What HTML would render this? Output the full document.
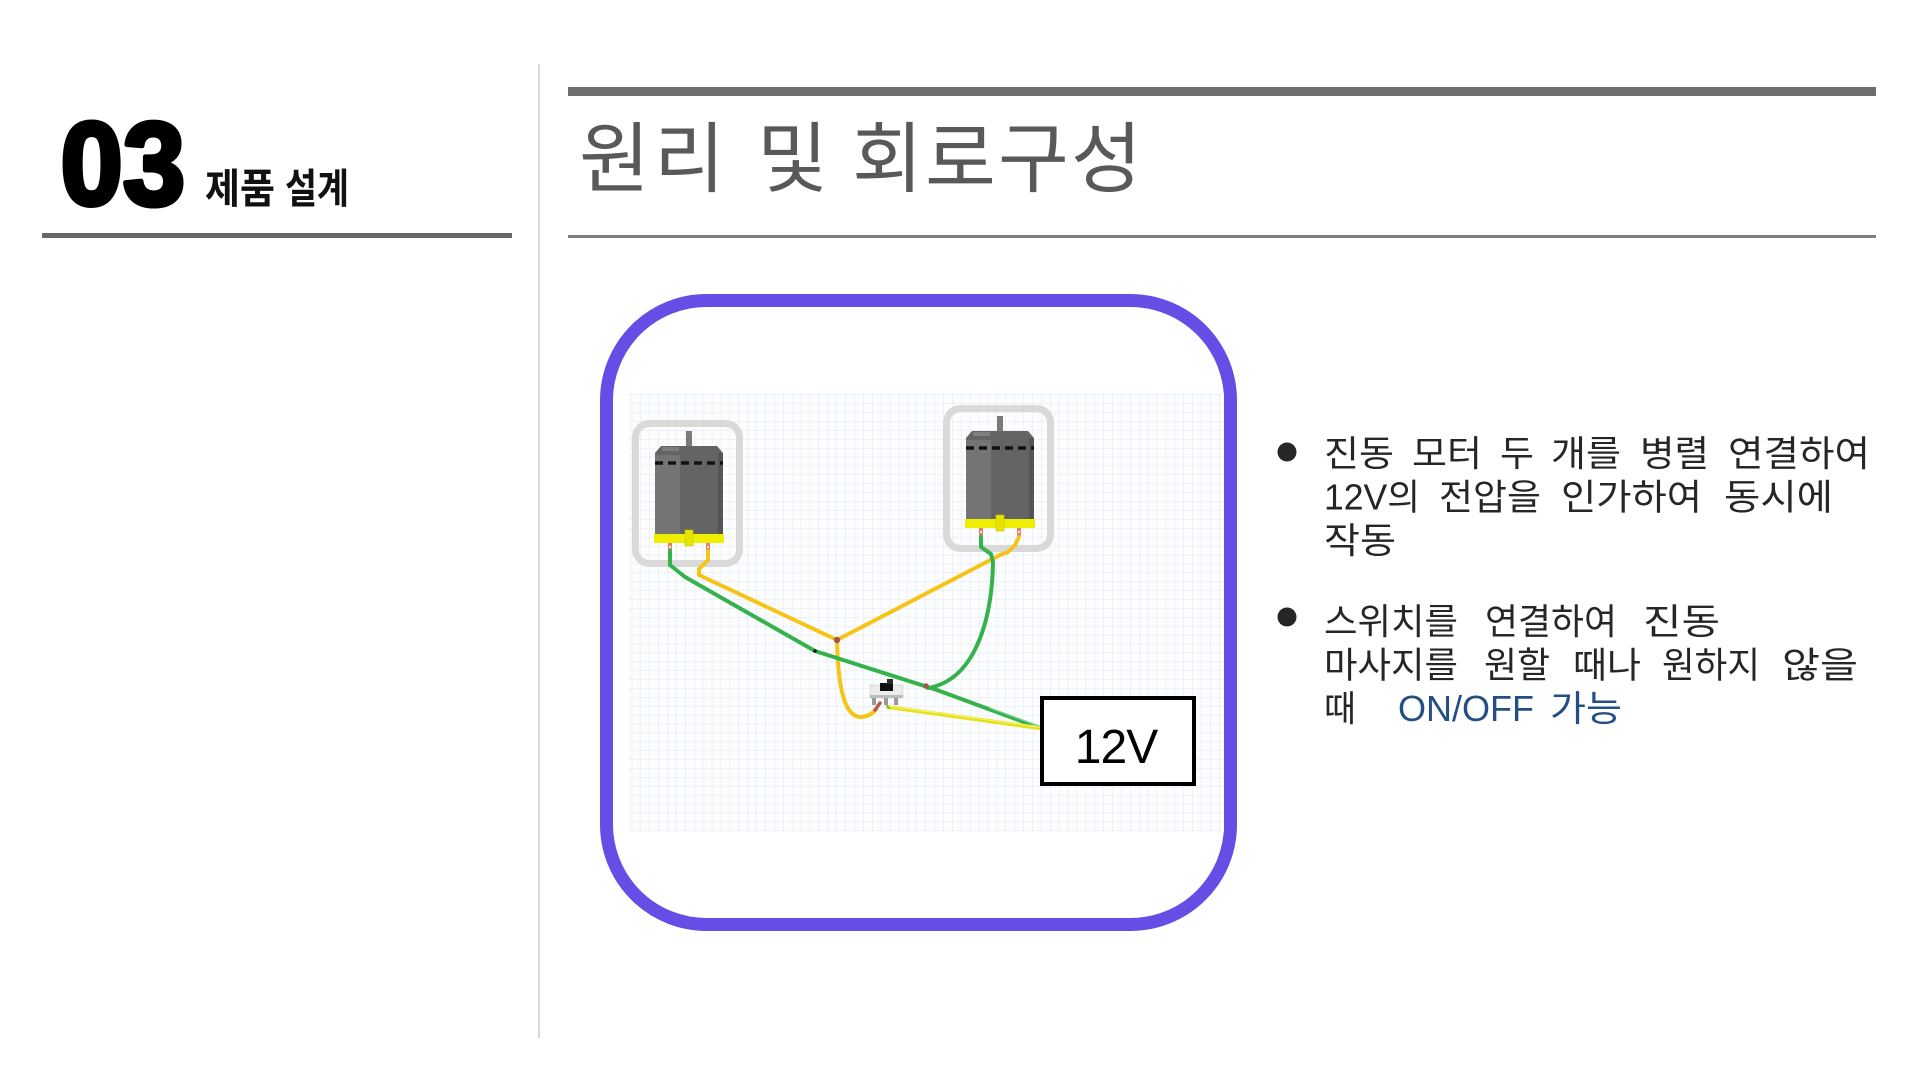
<!DOCTYPE html>
<html>
<head>
<meta charset="utf-8">
<style>
  html,body{margin:0;padding:0;background:#fff;}
  body{width:1920px;height:1080px;overflow:hidden;}
  svg{display:block;}
  .kr{font-family:"Liberation Sans","Noto Sans CJK KR",sans-serif;}
</style>
</head>
<body>
<svg width="1920" height="1080" viewBox="0 0 1920 1080" xmlns="http://www.w3.org/2000/svg">
  <defs>
    <pattern id="grid" x="631.7" y="394.5" width="8.9" height="8.9" patternUnits="userSpaceOnUse">
      <path d="M0,0 H8.9 M0,0 V8.9" stroke="#e0e5ed" stroke-width="1" fill="none"/>
    </pattern>
  </defs>

  <!-- Left header -->
  <g transform="translate(60.5,204.5) scale(0.95,1)">
    <text x="0" y="0" font-family="Liberation Sans, sans-serif" font-weight="700" font-size="118" fill="#000" stroke="#000" stroke-width="5" stroke-linejoin="round">03</text>
  </g>
  <g class="kr" font-size="41" font-weight="700" fill="#111">
    <text x="205" y="203" textLength="70" lengthAdjust="spacingAndGlyphs">제품</text>
    <text x="285" y="203" textLength="64" lengthAdjust="spacingAndGlyphs">설계</text>
  </g>
  <rect x="42" y="233" width="470" height="5" fill="#666"/>

  <!-- vertical separator -->
  <rect x="538" y="64" width="2" height="974" fill="#dadada"/>

  <!-- Title area -->
  <rect x="568" y="87" width="1308" height="9" fill="#6e6e6e"/>
  <text class="kr" x="579 654 757 852 925 998 1071" y="186" font-size="77" fill="#595959">원리및회로구성</text>
  <rect x="568" y="235" width="1308" height="3" fill="#7f7f7f"/>

  <!-- Purple frame -->
  <rect x="606.5" y="300.5" width="624" height="624" rx="100" ry="100" fill="#fff" stroke="#664de6" stroke-width="13"/>

  <!-- Grid -->
  <rect x="628" y="393" width="596" height="439" fill="#fcfdfe"/>
  <rect x="628" y="393" width="596" height="439" fill="url(#grid)"/>

  <!-- Motor 1 -->
  <g>
    <rect x="635.5" y="423.5" width="104" height="140" rx="14" ry="14" fill="none" stroke="#d9d9d9" stroke-width="7"/>
    <rect x="686" y="431" width="6" height="16" fill="#7a7a7a"/>
    <path d="M661,446 H717 L723,453 V535 H655 V453 Z" fill="#646464"/>
    <rect x="662" y="447" width="17" height="4" fill="#7e7e7e"/>
    <rect x="655" y="455" width="25" height="80" fill="#747474"/>
    <rect x="718" y="453" width="5" height="82" fill="#555"/>
    <line x1="655" y1="463" x2="723" y2="463" stroke="#111" stroke-width="3.5" stroke-dasharray="8 5"/>
    <rect x="654" y="534" width="70" height="9" fill="#eeee00"/>
    <rect x="685" y="530" width="8" height="16" fill="#e4e400" stroke="#c9c900" stroke-width="0.6"/>
    <rect x="668" y="543" width="4" height="8" fill="#e0836a"/>
    <rect x="706" y="543" width="4" height="8" fill="#e0836a"/>
    <rect x="669.2" y="546" width="1.6" height="2" fill="#fff"/>
    <rect x="707.2" y="546" width="1.6" height="2" fill="#fff"/>
  </g>

  <!-- Motor 2 -->
  <g transform="translate(311,-15)">
    <rect x="635.5" y="423.5" width="104" height="140" rx="14" ry="14" fill="none" stroke="#d9d9d9" stroke-width="7"/>
    <rect x="686" y="431" width="6" height="16" fill="#7a7a7a"/>
    <path d="M661,446 H717 L723,453 V535 H655 V453 Z" fill="#646464"/>
    <rect x="662" y="447" width="17" height="4" fill="#7e7e7e"/>
    <rect x="655" y="455" width="25" height="80" fill="#747474"/>
    <rect x="718" y="453" width="5" height="82" fill="#555"/>
    <line x1="655" y1="463" x2="723" y2="463" stroke="#111" stroke-width="3.5" stroke-dasharray="8 5"/>
    <rect x="654" y="534" width="70" height="9" fill="#eeee00"/>
    <rect x="685" y="530" width="8" height="16" fill="#e4e400" stroke="#c9c900" stroke-width="0.6"/>
    <rect x="668" y="543" width="4" height="8" fill="#e0836a"/>
    <rect x="706" y="543" width="4" height="8" fill="#e0836a"/>
    <rect x="669.2" y="546" width="1.6" height="2" fill="#fff"/>
    <rect x="707.2" y="546" width="1.6" height="2" fill="#fff"/>
  </g>

  <!-- Wires -->
  <g fill="none" stroke-linecap="round" stroke-linejoin="round">
    <path d="M708,551 L708,560 L699,569 L699,575 L837,640" stroke="#f6c417" stroke-width="4"/>
    <path d="M837,640 L1000,555 L1008,552 L1015,545 L1019,537" stroke="#f6c417" stroke-width="4"/>
    <path d="M837,640 C838,690 845,718 862,717 C870,716 874,712 876,709" stroke="#f6c417" stroke-width="4"/>
    <path d="M875,710 L880,703" stroke="#b85a48" stroke-width="3.5"/>
    <path d="M670,551 L670,565 L685,577 L815,651 L937,690 L1040,728" stroke="#35b24b" stroke-width="4"/>
    <path d="M981,537 L981,547 L991,554 L993,562 C992,620 975,680 928,688" stroke="#35b24b" stroke-width="4"/>
    <path d="M888,707 L1039,728" stroke="#e6e21a" stroke-width="4"/>
    <path d="M888,706 L1039,727" stroke="#f4f26a" stroke-width="1.2"/>
    <path d="M990,708 L1038,726" stroke="#86d494" stroke-width="1"/>
    <path d="M887,706 L889,708" stroke="#7ccf3c" stroke-width="2.5"/>
  </g>
  <circle cx="837" cy="640" r="3.2" fill="#a0574f"/>
  <circle cx="926" cy="686" r="2.8" fill="#a0574f"/>
  <circle cx="815" cy="651" r="1.8" fill="#1a1a1a"/>

  <!-- Switch -->
  <rect x="870" y="685" width="33" height="13" fill="#ebebeb" stroke="#cfcfcf" stroke-width="0.6"/>
  <rect x="870" y="695" width="33" height="3" fill="#bdbdbd"/>
  <rect x="880" y="683" width="13" height="8" fill="#111"/>
  <rect x="887" y="679" width="6" height="5" fill="#2a2a2a"/>
  <rect x="872" y="698" width="4" height="7" fill="#9a9a9a"/>
  <rect x="884" y="698" width="4" height="7" fill="#9a9a9a"/>
  <rect x="894" y="698" width="4" height="7" fill="#9a9a9a"/>

  <!-- 12V box -->
  <rect x="1042" y="698" width="152" height="86" fill="#fff" stroke="#000" stroke-width="4"/>
  <text x="1116" y="763" text-anchor="middle" font-family="Liberation Sans, sans-serif" font-size="48" letter-spacing="-1" fill="#000">12V</text>

  <!-- Bullets -->
  <circle cx="1287" cy="452" r="9.5" fill="#262626"/>
  <circle cx="1287" cy="617" r="9.5" fill="#262626"/>
  <g class="kr" font-size="36" fill="#262626" lengthAdjust="spacingAndGlyphs">
    <text x="1324" y="466" textLength="70" lengthAdjust="spacingAndGlyphs">진동</text>
    <text x="1412" y="466" textLength="70" lengthAdjust="spacingAndGlyphs">모터</text>
    <text x="1500" y="466" textLength="34" lengthAdjust="spacingAndGlyphs">두</text>
    <text x="1551" y="466" textLength="70" lengthAdjust="spacingAndGlyphs">개를</text>
    <text x="1640" y="466" textLength="69" lengthAdjust="spacingAndGlyphs">병렬</text>
    <text x="1728" y="466" textLength="142" lengthAdjust="spacingAndGlyphs">연결하여</text>

    <text x="1324" y="509.5" textLength="96" lengthAdjust="spacingAndGlyphs">12V의</text>
    <text x="1439" y="509.5" textLength="102" lengthAdjust="spacingAndGlyphs">전압을</text>
    <text x="1561" y="509.5" textLength="141" lengthAdjust="spacingAndGlyphs">인가하여</text>
    <text x="1724" y="509.5" textLength="109" lengthAdjust="spacingAndGlyphs">동시에</text>

    <text x="1324" y="553" textLength="72" lengthAdjust="spacingAndGlyphs">작동</text>

    <text x="1324" y="634" textLength="134" lengthAdjust="spacingAndGlyphs">스위치를</text>
    <text x="1485" y="634" textLength="132" lengthAdjust="spacingAndGlyphs">연결하여</text>
    <text x="1643" y="634" textLength="77" lengthAdjust="spacingAndGlyphs">진동</text>

    <text x="1324" y="677.5" textLength="134" lengthAdjust="spacingAndGlyphs">마사지를</text>
    <text x="1484" y="677.5" textLength="66" lengthAdjust="spacingAndGlyphs">원할</text>
    <text x="1573" y="677.5" textLength="68" lengthAdjust="spacingAndGlyphs">때나</text>
    <text x="1662" y="677.5" textLength="98" lengthAdjust="spacingAndGlyphs">원하지</text>
    <text x="1782" y="677.5" textLength="76" lengthAdjust="spacingAndGlyphs">않을</text>

    <text x="1324" y="721" textLength="32" lengthAdjust="spacingAndGlyphs">때</text>
    <text x="1398" y="721" fill="#234f86">ON/OFF</text>
    <text x="1550" y="721" fill="#234f86" textLength="72" lengthAdjust="spacingAndGlyphs">가능</text>
  </g>
</svg>
</body>
</html>
